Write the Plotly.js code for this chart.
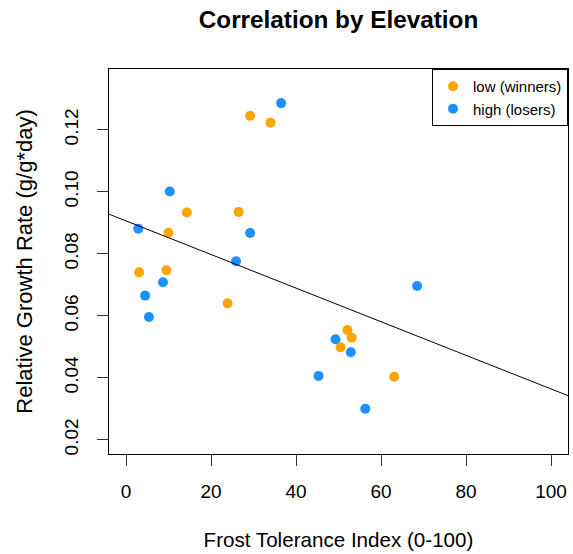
<!DOCTYPE html>
<html>
<head>
<meta charset="utf-8">
<script src="https://cdn.plot.ly/plotly-3.0.1.min.js"></script>
<style>html,body{margin:0;padding:0;background:#fff;}#chart{width:573px;height:554px;}</style>
</head>
<body>
<div id="chart"></div>
<script>
// Frost tolerance index (x) and relative growth rate (y)
var lowX  = [29.2, 34.0, 14.3, 26.5, 10.0, 3.1, 9.5, 23.9, 52.1, 53.1, 50.5, 63.1];
var lowY  = [0.1245, 0.1223, 0.0933, 0.0935, 0.0868, 0.0740, 0.0747, 0.0640, 0.0554, 0.0529, 0.0498, 0.0403];
var highX = [36.5, 10.3, 2.9, 29.2, 25.9, 8.7, 4.5, 5.4, 68.5, 49.3, 52.9, 45.3, 56.3];
var highY = [0.1286, 0.1001, 0.0881, 0.0867, 0.0776, 0.0708, 0.0665, 0.0596, 0.0696, 0.0524, 0.0482, 0.0406, 0.0300];
var seriesNames = ["low (winners)", "high (losers)"];
var xTicks = [0, 20, 40, 60, 80, 100];
var yTicks = [0.02, 0.04, 0.06, 0.08, 0.10, 0.12];
var yTickText = ["0.02", "0.04", "0.06", "0.08", "0.10", "0.12"];

var xRange = [-4, 104];
var yRange = [0.0154, 0.1396];

// least squares fit over all points (abline of lm)
var allX = lowX.concat(highX), allY = lowY.concat(highY);
var n = allX.length, mx = 0, my = 0;
for (var i = 0; i < n; i++) { mx += allX[i]; my += allY[i]; }
mx /= n; my /= n;
var sxy = 0, sxx = 0;
for (var i = 0; i < n; i++) { sxy += (allX[i]-mx)*(allY[i]-my); sxx += (allX[i]-mx)*(allX[i]-mx); }
var slope = sxy / sxx, intercept = my - slope * mx;
var fitX = xRange.slice();
var fitY = fitX.map(function(v){ return intercept + slope * v; });

var FONT = "Liberation Sans, Arial, Helvetica, sans-serif";

var traces = [
  {x: lowX, y: lowY, name: seriesNames[0], type: "scatter", mode: "markers",
   marker: {color: "#FFA500", size: 10}, cliponaxis: false},
  {x: highX, y: highY, name: seriesNames[1], type: "scatter", mode: "markers",
   marker: {color: "#1E90FF", size: 10}, cliponaxis: false},
  {x: fitX, y: fitY, type: "scatter", mode: "lines", showlegend: false,
   line: {color: "#000", width: 1}, hoverinfo: "skip"}
];

var layout = {
  width: 573, height: 554,
  margin: {l: 109, r: 5, t: 69, b: 100, pad: 0},
  paper_bgcolor: "#fff", plot_bgcolor: "#fff",
  font: {family: FONT, size: 19, color: "#000"},
  title: {text: "<b>Correlation by Elevation</b>", font: {family: FONT, size: 24.3, color: "#000"},
          x: 0.5, xref: "paper", xanchor: "center", y: 1 - 19/554, yref: "container", yanchor: "middle"},
  xaxis: {range: xRange, tickvals: xTicks, ticks: "outside", ticklen: 11, tickwidth: 1, tickcolor: "#333",
          showline: true, mirror: true, linecolor: "#000", linewidth: 1, showgrid: false, zeroline: false,
          tickfont: {size: 19}, ticklabelstandoff: 9,
          title: {text: "Frost Tolerance Index (0-100)", font: {size: 20.6}, standoff: 31}},
  yaxis: {range: yRange, tickvals: yTicks, ticktext: yTickText, ticks: "outside", ticklen: 11, tickwidth: 1, tickcolor: "#333",
          showline: true, mirror: true, linecolor: "#000", linewidth: 1, showgrid: false, zeroline: false,
          tickangle: -90, tickfont: {size: 19}, ticklabelstandoff: 11,
          title: {text: "Relative Growth Rate (g/g*day)", font: {size: 22}, standoff: 22}},
  legend: {x: 1, xanchor: "right", y: 1, yanchor: "top", bgcolor: "#fff", bordercolor: "#000", borderwidth: 1,
           font: {size: 15, color: "#000"}, itemwidth: 30, tracegroupgap: 0},
  showlegend: true
};

Plotly.newPlot("chart", traces, layout, {staticPlot: true});
</script>
</body>
</html>
